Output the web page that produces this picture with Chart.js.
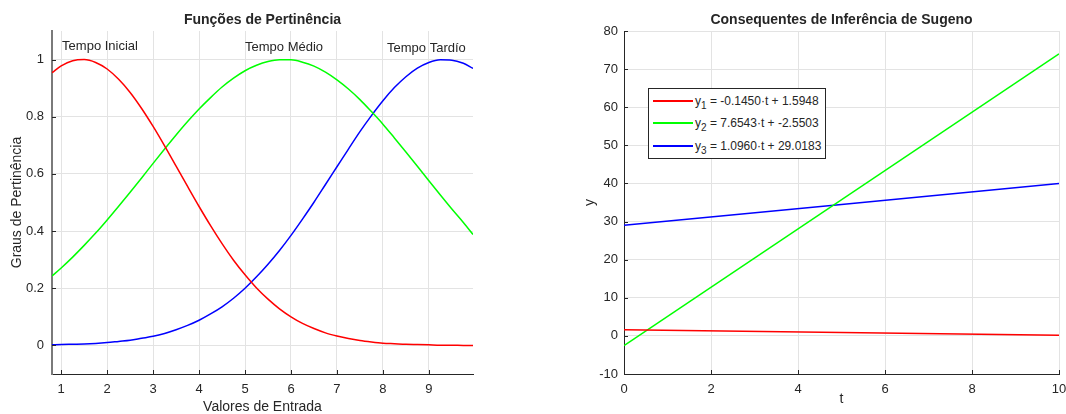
<!DOCTYPE html>
<html>
<head>
<meta charset="utf-8">
<script src="https://cdn.jsdelivr.net/npm/chart.js@4.4.1/dist/chart.umd.min.js"></script>
<style>
  html, body { margin: 0; padding: 0; background: #fff; overflow: hidden; width: 1066px; height: 414px; }
  canvas { position: absolute; top: 0; }
  #mfChart { left: 0; }
  #sugenoChart { left: 560px; }
  .legend {
    position: absolute; left: 648px; top: 88px; width: 176px; height: 69px;
    border: 1px solid #262626; background: #fff;
    font: 12px "Liberation Sans", Arial, sans-serif; color: #262626;
  }
  .legend .row { position: absolute; left: 0; height: 16px; line-height: 16px; white-space: nowrap; }
  .legend .swatch { position: absolute; left: 4px; top: 7px; width: 40px; height: 1.5px; }
  .legend .txt { position: absolute; left: 46px; top: 0; }
  .legend sub { font-size: 10px; vertical-align: -4px; line-height: 0; }
</style>
</head>
<body>
<canvas id="mfChart" width="480" height="414"></canvas>
<canvas id="sugenoChart" width="520" height="414"></canvas>
<div class="legend" id="legend"></div>
<script>
// left chart: membership functions
const xIn = [0.8, 1.0, 1.25, 1.5, 1.75, 2.0, 2.25, 2.5, 2.75, 3.0, 3.25, 3.5, 3.75, 4.0, 4.25, 4.5, 4.75, 5.0, 5.25, 5.5,
             5.75, 6.0, 6.25, 6.5, 6.75, 7.0, 7.25, 7.5, 7.75, 8.0, 8.25, 8.5, 8.75, 9.0, 9.25, 9.5, 9.75, 9.96];
const mfInicial = [0.954, 0.978, 0.996, 1.000, 0.990, 0.967, 0.931, 0.885, 0.829, 0.766, 0.698, 0.627, 0.556, 0.486, 0.419, 0.356, 0.298, 0.247, 0.201, 0.162,
                   0.128, 0.100, 0.077, 0.059, 0.044, 0.033, 0.024, 0.017, 0.012, 0.008, 0.006, 0.004, 0.003, 0.002, 0.001, 0.001, 0.000, 0.000];
const mfMedio = [0.243, 0.271, 0.309, 0.350, 0.393, 0.439, 0.487, 0.536, 0.586, 0.637, 0.687, 0.736, 0.783, 0.827, 0.867, 0.904, 0.935, 0.961, 0.980, 0.993,
                 0.999, 0.999, 0.991, 0.977, 0.956, 0.929, 0.897, 0.860, 0.818, 0.774, 0.726, 0.677, 0.627, 0.576, 0.526, 0.477, 0.430, 0.388];
const mfTardio = [0.002, 0.003, 0.004, 0.005, 0.007, 0.010, 0.014, 0.018, 0.025, 0.032, 0.042, 0.055, 0.070, 0.088, 0.110, 0.135, 0.165, 0.200, 0.240, 0.284,
                  0.332, 0.385, 0.442, 0.501, 0.563, 0.625, 0.687, 0.748, 0.804, 0.856, 0.902, 0.940, 0.970, 0.990, 0.999, 0.998, 0.987, 0.969];
const mfNames = ['Tempo Inicial', 'Tempo Médio', 'Tempo Tardío'];
const mfLabelX = [1.02, 5.0, 8.09];
const mfLabelY = [1.047, 1.044, 1.038];
const xTicksLeft = [1, 2, 3, 4, 5, 6, 7, 8, 9];
const yTicksLeft = [0, 0.2, 0.4, 0.6, 0.8, 1];

// right chart: Sugeno consequents
const tVals = [0, 10];
const y1Vals = [1.5948, 0.1448];
const y2Vals = [-2.5503, 73.9927];
const y3Vals = [29.0183, 39.9783];
const eqIndex = ['1', '2', '3'];
const eqRhs = ['-0.1450·t + 1.5948', '7.6543·t + -2.5503', '1.0960·t + 29.0183'];
const xTicksRight = [0, 2, 4, 6, 8, 10];
const yTicksRight = [-10, 0, 10, 20, 30, 40, 50, 60, 70, 80];

const FONT = '"Liberation Sans", Arial, Helvetica, sans-serif';
const INK = '#262626';
const GRID = '#e3e3e3';
Chart.defaults.font.family = FONT;
Chart.defaults.color = INK;

const pts = (xs, ys) => xs.map((x, i) => ({ x: x, y: ys[i] }));

const lineDs = (label, xs, ys, color) => ({
    label: label,
    data: pts(xs, ys),
    borderColor: color,
    backgroundColor: color,
    borderWidth: 1.5,
    pointRadius: 0,
    cubicInterpolationMode: 'monotone',
    fill: false
});

// octave style ticks pointing into the axes
const innerTicks = {
    id: 'innerTicks',
    afterDatasetsDraw(chart) {
        const { ctx, chartArea: a, scales: { x, y } } = chart;
        ctx.save();
        ctx.strokeStyle = INK;
        ctx.lineWidth = 1;
        ctx.beginPath();
        x.ticks.forEach(t => {
            const px = Math.round(x.getPixelForValue(t.value)) + 0.5;
            ctx.moveTo(px, a.bottom);
            ctx.lineTo(px, a.bottom - 4);
        });
        y.ticks.forEach(t => {
            const py = Math.round(y.getPixelForValue(t.value)) + 0.5;
            ctx.moveTo(a.left, py);
            ctx.lineTo(a.left + 4, py);
        });
        ctx.stroke();
        ctx.restore();
    }
};

const mfLabels = {
    id: 'mfLabels',
    afterDatasetsDraw(chart) {
        const { ctx, scales: { x, y } } = chart;
        ctx.save();
        ctx.font = '13px ' + FONT;
        ctx.fillStyle = INK;
        ctx.textAlign = 'left';
        ctx.textBaseline = 'middle';
        mfNames.forEach((name, i) => {
            ctx.fillText(name, x.getPixelForValue(mfLabelX[i]), y.getPixelForValue(mfLabelY[i]));
        });
        ctx.restore();
    }
};

function axis(opts) {
    return {
        type: 'linear',
        min: opts.min,
        max: opts.max,
        afterBuildTicks: s => { s.ticks = opts.ticks.map(v => ({ value: v })); },
        afterFit: s => { if (opts.width) s.width = opts.width; if (opts.height) s.height = opts.height; },
        grid: { color: GRID, lineWidth: 1, drawTicks: false },
        border: { color: opts.borderColor || INK, width: opts.borderWidth || 1 },
        ticks: { padding: opts.pad, color: INK, font: { size: 13 }, callback: v => String(v) },
        title: {
            display: true,
            text: opts.title,
            color: INK,
            font: { size: 14, lineHeight: 1 },
            padding: opts.titlePad
        }
    };
}

function titleOpts(text) {
    return {
        display: true,
        text: text,
        fullSize: false,
        color: INK,
        font: { size: 14, weight: 'bold', lineHeight: 1.2 },
        padding: { top: 11.6, bottom: 2.6 }
    };
}

const mfChart = new Chart(document.getElementById('mfChart'), {
    type: 'line',
    data: {
        datasets: [
            lineDs(mfNames[0], xIn, mfInicial, '#ff0000'),
            lineDs(mfNames[1], xIn, mfMedio, '#00ff00'),
            lineDs(mfNames[2], xIn, mfTardio, '#0000ff')
        ]
    },
    options: {
        responsive: false,
        animation: false,
        layout: { padding: { left: 0, right: 7, top: 0, bottom: 0 } },
        scales: {
            x: axis({ min: 0.8, max: 9.96, ticks: xTicksLeft, height: 40, pad: 8,
                      title: 'Valores de Entrada', titlePad: { top: 0, bottom: 0 } }),
            y: axis({ min: -0.1, max: 1.1, ticks: yTicksLeft, width: 52, pad: 8,
                      borderColor: '#7a7a7a', borderWidth: 2,
                      title: 'Graus de Pertinência', titlePad: { top: 10.5, bottom: 0 } })
        },
        plugins: {
            legend: { display: false },
            tooltip: { enabled: false },
            title: titleOpts('Funções de Pertinência')
        }
    },
    plugins: [innerTicks, mfLabels]
});

const sugenoChart = new Chart(document.getElementById('sugenoChart'), {
    type: 'line',
    data: {
        datasets: [
            lineDs('y1', tVals, y1Vals, '#ff0000'),
            lineDs('y2', tVals, y2Vals, '#00ff00'),
            lineDs('y3', tVals, y3Vals, '#0000ff')
        ]
    },
    options: {
        responsive: false,
        animation: false,
        layout: { padding: { left: 0, right: 21, top: 0, bottom: 0 } },
        scales: {
            x: axis({ min: 0, max: 10, ticks: xTicksRight, height: 40, pad: 8,
                      title: 't', titlePad: { top: 0, bottom: 8 } }),
            y: axis({ min: -10, max: 80, ticks: yTicksRight, width: 64, pad: 6,
                      title: 'y', titlePad: { top: 23, bottom: 0 } })
        },
        plugins: {
            legend: { display: false },
            tooltip: { enabled: false },
            title: titleOpts('Consequentes de Inferência de Sugeno')
        }
    },
    plugins: [innerTicks]
});

// legend box with subscripts, built from the datasets
const legendEl = document.getElementById('legend');
const rowTops = [4, 26, 49];
sugenoChart.data.datasets.forEach((ds, i) => {
    const row = document.createElement('div');
    row.className = 'row';
    row.style.top = rowTops[i] + 'px';
    row.innerHTML = '<span class="swatch" style="background:' + ds.borderColor + '"></span>' +
        '<span class="txt">y<sub>' + eqIndex[i] + '</sub> = ' + eqRhs[i] + '</span>';
    legendEl.appendChild(row);
});
</script>
</body>
</html>
